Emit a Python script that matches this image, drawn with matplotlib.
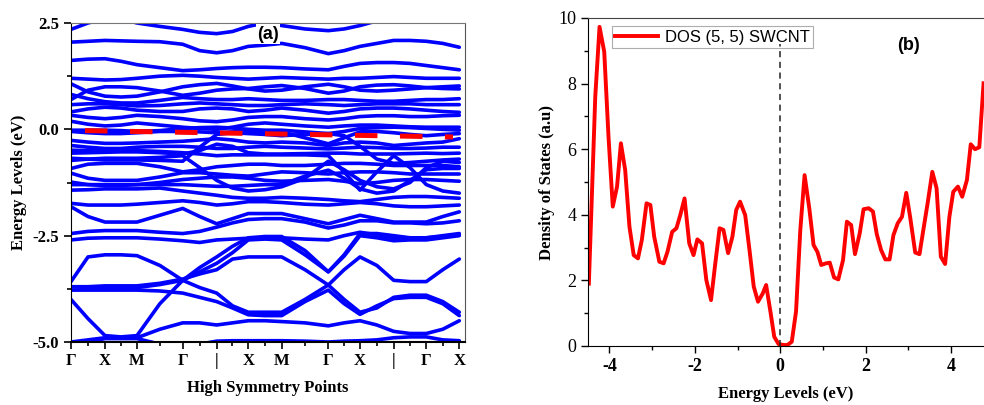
import numpy as np
import matplotlib
matplotlib.use("Agg")
import matplotlib.pyplot as plt
from matplotlib.ticker import MultipleLocator, FixedLocator

plt.rcParams['font.family'] = ['Liberation Serif', 'DejaVu Serif']
plt.rcParams['axes.unicode_minus'] = False

# k-path: high symmetry points along the path
k_sym = np.array([0, 34, 66, 111.7, 145.7, 177.3, 210.7, 257.3, 289, 322.7, 355.3, 388.3])
k_labels = ['Γ', 'X', 'M', 'Γ', '|', 'X', 'M', 'Γ', 'X', '|', 'Γ', 'X']

# band energies (eV) at each symmetry point and the midpoints between them
bands = [
    [2.35, 2.5, 2.6, 2.6, 2.5, 2.42, 2.35, 2.28, 2.25, 2.3, 2.42, 2.5, 2.44, 2.36, 2.32, 2.36, 2.44, 2.55, 2.65, 2.65, 2.65, 2.65, 2.65],
    [2.05, 2.07, 2.09, 2.08, 2.07, 2.06, 2.0, 1.85, 1.8, 1.85, 1.95, 1.98, 2.02, 1.92, 1.78, 1.85, 1.95, 2.02, 2.09, 2.09, 2.07, 2.02, 1.93],
    [1.62, 1.65, 1.66, 1.6, 1.52, 1.45, 1.38, 1.4, 1.43, 1.45, 1.46, 1.46, 1.45, 1.42, 1.40, 1.48, 1.55, 1.57, 1.57, 1.55, 1.5, 1.45, 1.40],
    [1.2, 1.18, 1.16, 1.17, 1.2, 1.25, 1.27, 1.25, 1.22, 1.2, 1.18, 1.2, 1.22, 1.2, 1.18, 1.2, 1.2, 1.22, 1.24, 1.22, 1.2, 1.2, 1.2],
    [1.07, 0.88, 0.78, 0.76, 0.78, 0.88, 1.0, 1.05, 1.08, 1.02, 0.95, 0.9, 0.92, 1.0, 1.06, 1.0, 0.92, 0.9, 0.92, 0.95, 0.98, 1.0, 1.02],
    [0.7, 0.92, 1.0, 1.0, 0.98, 0.9, 0.8, 0.85, 0.92, 0.95, 0.96, 1.0, 1.03, 0.96, 0.85, 0.9, 1.0, 1.04, 1.05, 1.02, 0.98, 0.96, 0.95],
    [0.82, 0.72, 0.65, 0.62, 0.62, 0.68, 0.75, 0.72, 0.7, 0.7, 0.72, 0.7, 0.68, 0.68, 0.7, 0.7, 0.68, 0.66, 0.66, 0.68, 0.7, 0.7, 0.72],
    [0.58, 0.6, 0.6, 0.58, 0.55, 0.56, 0.6, 0.62, 0.6, 0.58, 0.56, 0.56, 0.58, 0.6, 0.58, 0.56, 0.58, 0.6, 0.6, 0.6, 0.58, 0.58, 0.58],
    [0.41, 0.48, 0.52, 0.5, 0.45, 0.42, 0.42, 0.48, 0.5, 0.48, 0.42, 0.45, 0.5, 0.45, 0.38, 0.42, 0.48, 0.5, 0.5, 0.48, 0.45, 0.42, 0.40],
    [0.33, 0.28, 0.25, 0.28, 0.33, 0.3, 0.25, 0.2, 0.18, 0.22, 0.28, 0.3, 0.3, 0.25, 0.22, 0.25, 0.3, 0.32, 0.32, 0.3, 0.3, 0.32, 0.33],
    [0.19, 0.12, 0.08, 0.1, 0.15, 0.1, 0.05, 0.02, 0.0, 0.05, 0.12, 0.15, 0.12, 0.08, 0.05, 0.08, 0.1, 0.1, 0.08, 0.06, 0.05, 0.05, 0.05],
    [-0.02, -0.02, -0.02, -0.03, -0.05, -0.03, 0.02, 0.04, 0.05, 0.03, 0.0, -0.02, -0.02, -0.06, -0.1, -0.05, 0.02, 0.04, 0.05, 0.04, 0.02, 0.0, -0.02],
    [-0.05, -0.08, -0.1, -0.1, -0.08, -0.05, -0.05, -0.06, -0.08, -0.06, -0.05, -0.05, -0.06, -0.2, -0.34, -0.2, -0.06, -0.05, -0.08, -0.12, -0.15, -0.12, -0.1],
    [-0.26, -0.3, -0.33, -0.33, -0.32, -0.3, -0.28, -0.25, -0.22, -0.25, -0.3, -0.32, -0.3, -0.32, -0.38, -0.32, -0.3, -0.32, -0.38, -0.35, -0.32, -0.3, -0.22],
    [-0.38, -0.42, -0.45, -0.45, -0.42, -0.4, -0.4, -0.42, -0.45, -0.45, -0.42, -0.4, -0.42, -0.44, -0.46, -0.44, -0.42, -0.43, -0.45, -0.45, -0.44, -0.42, -0.42],
    [-0.56, -0.55, -0.54, -0.53, -0.53, -0.55, -0.58, -0.5, -0.35, -0.4, -0.55, -0.58, -0.58, -0.57, -0.56, -0.56, -0.58, -0.58, -0.58, -0.57, -0.56, -0.57, -0.56],
    [-0.68, -0.7, -0.72, -0.72, -0.72, -0.73, -0.75, -0.42, -0.12, -0.08, -0.1, -0.12, -0.15, -0.12, -0.1, -0.15, -0.4, -0.7, -0.8, -0.78, -0.75, -0.72, -0.7],
    [-0.73, -0.7, -0.68, -0.68, -0.68, -0.66, -0.62, -0.9, -1.2, -1.38, -1.45, -1.42, -1.35, -1.15, -0.75, -0.95, -1.2, -1.35, -1.4, -1.25, -0.9, -0.75, -0.78],
    [-0.49, -0.5, -0.5, -0.5, -0.5, -0.52, -0.55, -0.58, -0.62, -0.6, -0.6, -0.6, -0.6, -0.6, -0.62, -1.0, -1.43, -1.0, -0.62, -0.9, -1.3, -1.45, -1.5],
    [-1.3, -1.3, -1.3, -1.3, -1.3, -1.3, -1.3, -1.32, -1.34, -1.34, -1.32, -1.3, -1.3, -1.1, -0.96, -1.15, -1.4, -1.5, -1.45, -1.2, -0.95, -0.92, -0.92],
    [-0.92, -0.82, -0.8, -0.8, -0.8, -0.88, -1.0, -0.95, -0.88, -0.85, -0.82, -0.82, -0.85, -0.85, -0.82, -0.8, -0.8, -0.82, -0.85, -0.85, -0.85, -0.85, -0.88],
    [-1.03, -1.15, -1.2, -1.2, -1.2, -1.12, -1.02, -1.02, -1.05, -1.08, -1.1, -1.05, -1.0, -1.02, -1.05, -1.02, -1.0, -1.0, -1.02, -1.05, -1.05, -1.05, -1.05],
    [-1.24, -1.3, -1.32, -1.32, -1.3, -1.25, -1.18, -1.15, -1.12, -1.12, -1.15, -1.2, -1.22, -1.2, -1.18, -1.22, -1.28, -1.25, -1.2, -1.18, -1.18, -1.2, -1.22],
    [-1.43, -1.42, -1.4, -1.4, -1.4, -1.38, -1.45, -1.5, -1.55, -1.6, -1.62, -1.62, -1.6, -1.62, -1.65, -1.68, -1.7, -1.65, -1.6, -1.58, -1.58, -1.6, -1.62],
    [-1.74, -1.78, -1.78, -1.78, -1.76, -1.72, -1.68, -1.72, -1.78, -1.75, -1.7, -1.7, -1.72, -1.76, -1.78, -1.75, -1.72, -1.75, -1.8, -1.82, -1.82, -1.8, -1.78],
    [-1.82, -2.05, -2.18, -2.18, -2.18, -2.02, -1.86, -2.05, -2.22, -2.1, -1.98, -1.98, -1.98, -2.1, -2.22, -2.12, -2.02, -2.1, -2.18, -2.18, -2.18, -2.05, -1.94],
    [-2.45, -2.4, -2.38, -2.38, -2.38, -2.42, -2.45, -2.4, -2.3, -2.2, -2.12, -2.1, -2.1, -2.18, -2.32, -2.25, -2.15, -2.15, -2.2, -2.2, -2.22, -2.2, -2.15],
    [-2.6, -2.56, -2.55, -2.55, -2.55, -2.58, -2.62, -2.66, -2.6, -2.58, -2.56, -2.55, -2.55, -2.58, -2.6, -2.5, -2.42, -2.48, -2.55, -2.55, -2.55, -2.52, -2.48],
    [-4.0, -4.45, -4.85, -4.88, -4.85, -4.1, -3.55, -3.25, -3.0, -2.75, -2.55, -2.52, -2.52, -2.85, -3.35, -2.95, -2.45, -2.45, -2.5, -2.55, -2.55, -2.5, -2.45],
    [-3.58, -3.0, -2.95, -2.95, -2.97, -3.2, -3.55, -3.72, -3.85, -4.15, -4.3, -4.3, -4.3, -4.0, -3.66, -4.0, -4.3, -4.2, -3.95, -3.9, -3.9, -4.05, -4.3],
    [-3.7, -3.7, -3.68, -3.68, -3.68, -3.62, -3.52, -3.4, -3.3, -3.05, -3.0, -3.0, -3.0, -3.3, -3.66, -3.3, -3.0, -3.2, -3.55, -3.58, -3.58, -3.3, -3.05],
    [-3.7, -3.72, -3.72, -3.72, -3.72, -3.65, -3.55, -3.35, -3.15, -2.9, -2.6, -2.58, -2.6, -2.95, -3.35, -2.98, -2.5, -2.55, -2.62, -2.6, -2.6, -2.55, -2.5],
    [-3.78, -3.78, -3.78, -3.78, -3.78, -3.8, -3.85, -3.95, -4.05, -4.2, -4.36, -4.38, -4.38, -4.05, -3.78, -4.1, -4.35, -4.15, -3.98, -3.95, -3.95, -4.1, -4.38],
    [-5.0, -4.95, -4.9, -4.9, -4.9, -4.7, -4.55, -4.55, -4.6, -4.55, -4.5, -4.5, -4.52, -4.55, -4.62, -4.55, -4.5, -4.6, -4.75, -4.8, -4.8, -4.7, -4.5],
    [-5.1, -5.0, -4.92, -4.92, -4.92, -5.05, -5.1, -5.05, -4.98, -4.97, -4.97, -4.97, -4.97, -4.98, -5.0, -4.98, -4.97, -4.95, -4.9, -4.88, -4.88, -4.95, -4.97],
]

# Fermi level marker (ends of the dashed red segment)
fermi_k = [14, 382]
fermi_e = [-0.03, -0.18]

# density of states of the (5,5) tube
dos_e = [-4.48, -4.33, -4.23, -4.12, -4.02, -3.92, -3.82, -3.73, -3.63, -3.53,
         -3.43, -3.33, -3.24, -3.13, -3.04, -2.95, -2.83, -2.73, -2.64, -2.53,
         -2.43, -2.34, -2.24, -2.13, -2.03, -1.94, -1.83, -1.73, -1.62, -1.52,
         -1.42, -1.33, -1.22, -1.12, -1.03, -0.94, -0.82, -0.72, -0.62, -0.52,
         -0.41, -0.33, -0.23, -0.14, -0.04, 0.08, 0.17, 0.27, 0.37, 0.47,
         0.57, 0.68, 0.78, 0.87, 0.96, 1.07, 1.16, 1.26, 1.36, 1.47,
         1.56, 1.66, 1.75, 1.86, 1.95, 2.07, 2.17, 2.26, 2.36, 2.46,
         2.56, 2.65, 2.75, 2.85, 2.95, 3.04, 3.16, 3.26, 3.35, 3.45,
         3.56, 3.66, 3.76, 3.86, 3.96, 4.05, 4.16, 4.26, 4.37, 4.46,
         4.56, 4.66, 4.76]
dos_val = [1.9, 7.6, 9.73, 8.97, 6.38, 4.25, 4.86, 6.18, 5.37, 3.64,
           2.77, 2.67, 3.23, 4.35, 4.30, 3.33, 2.57, 2.52, 2.87, 3.48,
           3.59, 3.99, 4.50, 3.13, 2.77, 3.25, 3.13, 2.01, 1.40, 2.52,
           3.59, 3.54, 2.83, 3.33, 4.15, 4.40, 3.99, 2.93, 1.81, 1.35,
           1.60, 1.86, 1.05, 0.28, 0.06, 0.03, 0.03, 0.13, 1.05, 3.54,
           5.21, 4.20, 3.08, 2.87, 2.47, 2.52, 2.54, 2.09, 2.03, 2.62,
           3.79, 3.69, 2.80, 3.43, 4.17, 4.20, 4.10, 3.41, 2.93, 2.64,
           2.64, 3.38, 3.74, 3.94, 4.67, 3.94, 2.85, 2.80, 3.54, 4.35,
           5.31, 4.81, 2.72, 2.50, 3.94, 4.70, 4.86, 4.55, 5.06, 6.15,
           6.00, 6.06, 8.01]

k_mid = (k_sym[:-1] + k_sym[1:]) / 2
k_knots = np.append(np.column_stack([k_sym[:-1], k_mid]).ravel(), k_sym[-1])

fig = plt.figure(figsize=(9.84, 4.05), dpi=100)

# ---- (a) band structure
ax1 = fig.add_axes([71/984, 63/405, 394/984, 319/405])
for b in bands:
    ax1.plot(k_knots, b, color='#0000ff', lw=2.6, solid_capstyle='round', solid_joinstyle='round')
ax1.plot(fermi_k, fermi_e, color='#ff0000', lw=3.6, ls=(0, (4.5, 4.5)), zorder=5)
ax1.set_xlim(0, 394)
ax1.set_ylim(-5, 2.5)
ax1.yaxis.set_major_locator(MultipleLocator(2.5))
ax1.yaxis.set_minor_locator(MultipleLocator(1.25))
ax1.set_yticklabels([f'{v:.1f}' for v in ax1.get_yticks()])
ax1.set_xticks(k_sym)
ax1.set_xticklabels(k_labels)
ax1.xaxis.set_minor_locator(FixedLocator(k_mid))
ax1.tick_params(axis='both', which='both', direction='out', width=1.2)
ax1.tick_params(axis='both', which='major', length=5, labelsize=12)
ax1.tick_params(axis='both', which='minor', length=3)
ax1.tick_params(axis='x', which='major', pad=3)
for lab in ax1.get_xticklabels() + ax1.get_yticklabels():
    lab.set_fontweight('bold')
ax1.spines['top'].set_color('#777777')
ax1.spines['right'].set_color('#555555')
ax1.spines['bottom'].set_linewidth(1.5)
ax1.set_xlabel('High Symmetry Points', fontsize=12, fontweight='bold', labelpad=8)
ax1.set_ylabel('Energy Levels (eV)', fontsize=12, fontweight='bold', labelpad=4)
ax1.text(0.5, 0.965, '(a)', transform=ax1.transAxes, ha='center', va='center',
         fontsize=13, fontweight='bold', family='Liberation Sans',
         bbox=dict(facecolor='white', edgecolor='none', pad=1), zorder=6)

# ---- (b) density of states
ax2 = fig.add_axes([588/984, 59/405, 396/984, 328/405])
ax2.plot(dos_e, dos_val, color='#ff0000', lw=2.8, label='DOS (5, 5) SWCNT')
ax2.plot([0, 0], [0, 9.2], color='#222222', lw=1.1, ls=(0, (4, 3)), zorder=6)
ax2.set_xlim(-4.5, 4.77)
ax2.set_ylim(0, 10)
ax2.xaxis.set_major_locator(MultipleLocator(2))
ax2.xaxis.set_minor_locator(MultipleLocator(1))
ax2.yaxis.set_major_locator(MultipleLocator(2))
ax2.yaxis.set_minor_locator(MultipleLocator(1))
ax2.tick_params(axis='both', which='both', direction='out', width=1.0)
ax2.tick_params(axis='both', which='major', length=5, labelsize=13)
ax2.tick_params(axis='both', which='minor', length=3)
for lab in ax2.get_xticklabels():
    lab.set_fontweight('bold')
ax2.spines['right'].set_visible(False)
ax2.spines['top'].set_color('#444444')
ax2.set_xlabel('Energy Levels (eV)', fontsize=12, fontweight='bold', labelpad=8)
ax2.set_ylabel('Density of States (a.u)', fontsize=12, fontweight='bold', labelpad=2)
leg = ax2.legend(loc='upper left', bbox_to_anchor=(0.06, 0.975), prop={'family': 'Liberation Sans', 'size': 12},
                 frameon=True, fancybox=False, edgecolor='#999999', borderpad=0.2,
                 handlelength=2.6, handletextpad=0.4, borderaxespad=0)
leg.get_frame().set_linewidth(0.8)
ax2.text(0.81, 0.915, '(b)', transform=ax2.transAxes, ha='center', va='center',
         fontsize=13, fontweight='bold', family='Liberation Sans')

fig.savefig('out.png', dpi=100)
